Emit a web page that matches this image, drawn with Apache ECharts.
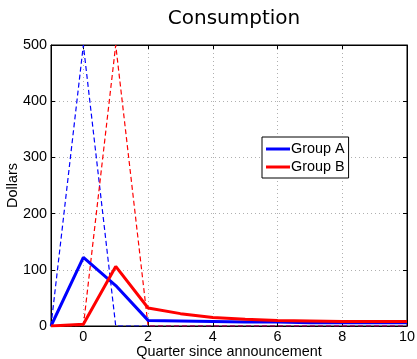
<!DOCTYPE html>
<html><head><meta charset="utf-8">
<script src="https://cdn.jsdelivr.net/npm/echarts@6/dist/echarts.min.js"></script>
<style>html,body{margin:0;padding:0;background:#fff}#c{width:417px;height:359px}</style>
</head><body><div id="c"></div>
<script>
const quarters = [-1, 0, 1, 2, 3, 4, 5, 6, 7, 8, 9, 10];
const groupA = [0, 122, 72, 10, 9, 8, 7, 7, 6, 6, 6, 6];
const groupB = [0, 3, 106, 32, 22, 15, 12, 10, 9, 8, 8, 8];
const impulseA = [0, 500, 0, 0, 0, 0, 0, 0, 0, 0, 0, 0];
const impulseB = [0, 0, 500, 0, 0, 0, 0, 0, 0, 0, 0, 0];
const xTicks = [0, 2, 4, 6, 8, 10];
const yTicks = [0, 100, 200, 300, 400, 500];

const pair = arr => quarters.map((q, i) => [q, arr[i]]);
const font = 'Liberation Sans, Arial, sans-serif';
const fs = 14.4;
const chart = echarts.init(document.getElementById('c'));
const gridLine = {show: true, lineStyle: {color: '#b0b0b0', type: [1, 3], width: 1}};
chart.setOption({
  animation: false,
  title: {text: 'Consumption', left: 229, textAlign: 'center', top: 4,
    textStyle: {fontFamily: 'DejaVu Sans', fontSize: 20, fontWeight: 'normal', color: '#000'}},
  grid: {left: 51, right: 10, top: 45, bottom: 33, show: true, borderColor: '#000', borderWidth: 1,
    containLabel: false, outerBoundsMode: 'none'},
  legend: {data: ['Group A', 'Group B'], orient: 'vertical', left: 262, top: 137,
    backgroundColor: '#fff', borderColor: '#000', borderWidth: 1, padding: [5, 4, 4, 4],
    itemGap: 4, itemWidth: 24, itemHeight: 3, icon: 'rect',
    textStyle: {fontFamily: font, fontSize: fs, color: '#000', padding: [0, 0, 0, -4]}},
  xAxis: [{type: 'value', min: -1, max: 10, position: 'bottom',
    name: 'Quarter since announcement', nameLocation: 'middle', nameGap: 19, nameMoveOverlap: false,
    nameTextStyle: {fontFamily: font, fontSize: fs, color: '#000'},
    axisLine: {show: true, onZero: false, lineStyle: {color: '#000'}},
    axisTick: {inside: true, length: 4, customValues: xTicks, lineStyle: {color: '#000'}},
    axisLabel: {customValues: xTicks, fontFamily: font, fontSize: fs, color: '#000', margin: 4},
    splitLine: gridLine},
   {type: 'value', min: -1, max: 10, position: 'top',
    axisLine: {show: true, onZero: false, lineStyle: {color: '#000'}},
    axisTick: {inside: true, length: 4, customValues: xTicks, lineStyle: {color: '#000'}},
    axisLabel: {show: false}, splitLine: {show: false}}],
  yAxis: [{type: 'value', min: 0, max: 500, interval: 100, position: 'left',
    name: 'Dollars', nameLocation: 'middle', nameGap: 31, nameRotate: 90, nameMoveOverlap: false,
    nameTextStyle: {fontFamily: font, fontSize: fs, color: '#000'},
    axisLine: {show: true, onZero: false, lineStyle: {color: '#000'}},
    axisTick: {show: true, inside: true, length: 4, lineStyle: {color: '#000'}},
    axisLabel: {fontFamily: font, fontSize: fs, color: '#000', margin: 4},
    splitLine: gridLine},
   {type: 'value', min: 0, max: 500, interval: 100, position: 'right',
    axisLine: {show: true, onZero: false, lineStyle: {color: '#000'}},
    axisTick: {show: true, inside: true, length: 4, lineStyle: {color: '#000'}},
    axisLabel: {show: false}, splitLine: {show: false}}],
  series: [
    {name: 'A impulse', type: 'line', data: pair(impulseA), symbol: 'none', clip: true,
      lineStyle: {color: '#0000ff', width: 1.2, type: [5, 3]}, itemStyle: {color: '#0000ff'}, z: 2},
    {name: 'B impulse', type: 'line', data: pair(impulseB), symbol: 'none', clip: true,
      lineStyle: {color: '#ff0000', width: 1.2, type: [5, 3]}, itemStyle: {color: '#ff0000'}, z: 2},
    {name: 'Group A', type: 'line', data: pair(groupA), symbol: 'none', clip: true,
      lineStyle: {color: '#0000ff', width: 3}, itemStyle: {color: '#0000ff'}, z: 3},
    {name: 'Group B', type: 'line', data: pair(groupB), symbol: 'none', clip: true,
      lineStyle: {color: '#ff0000', width: 3}, itemStyle: {color: '#ff0000'}, z: 4}
  ]
});
</script></body></html>
